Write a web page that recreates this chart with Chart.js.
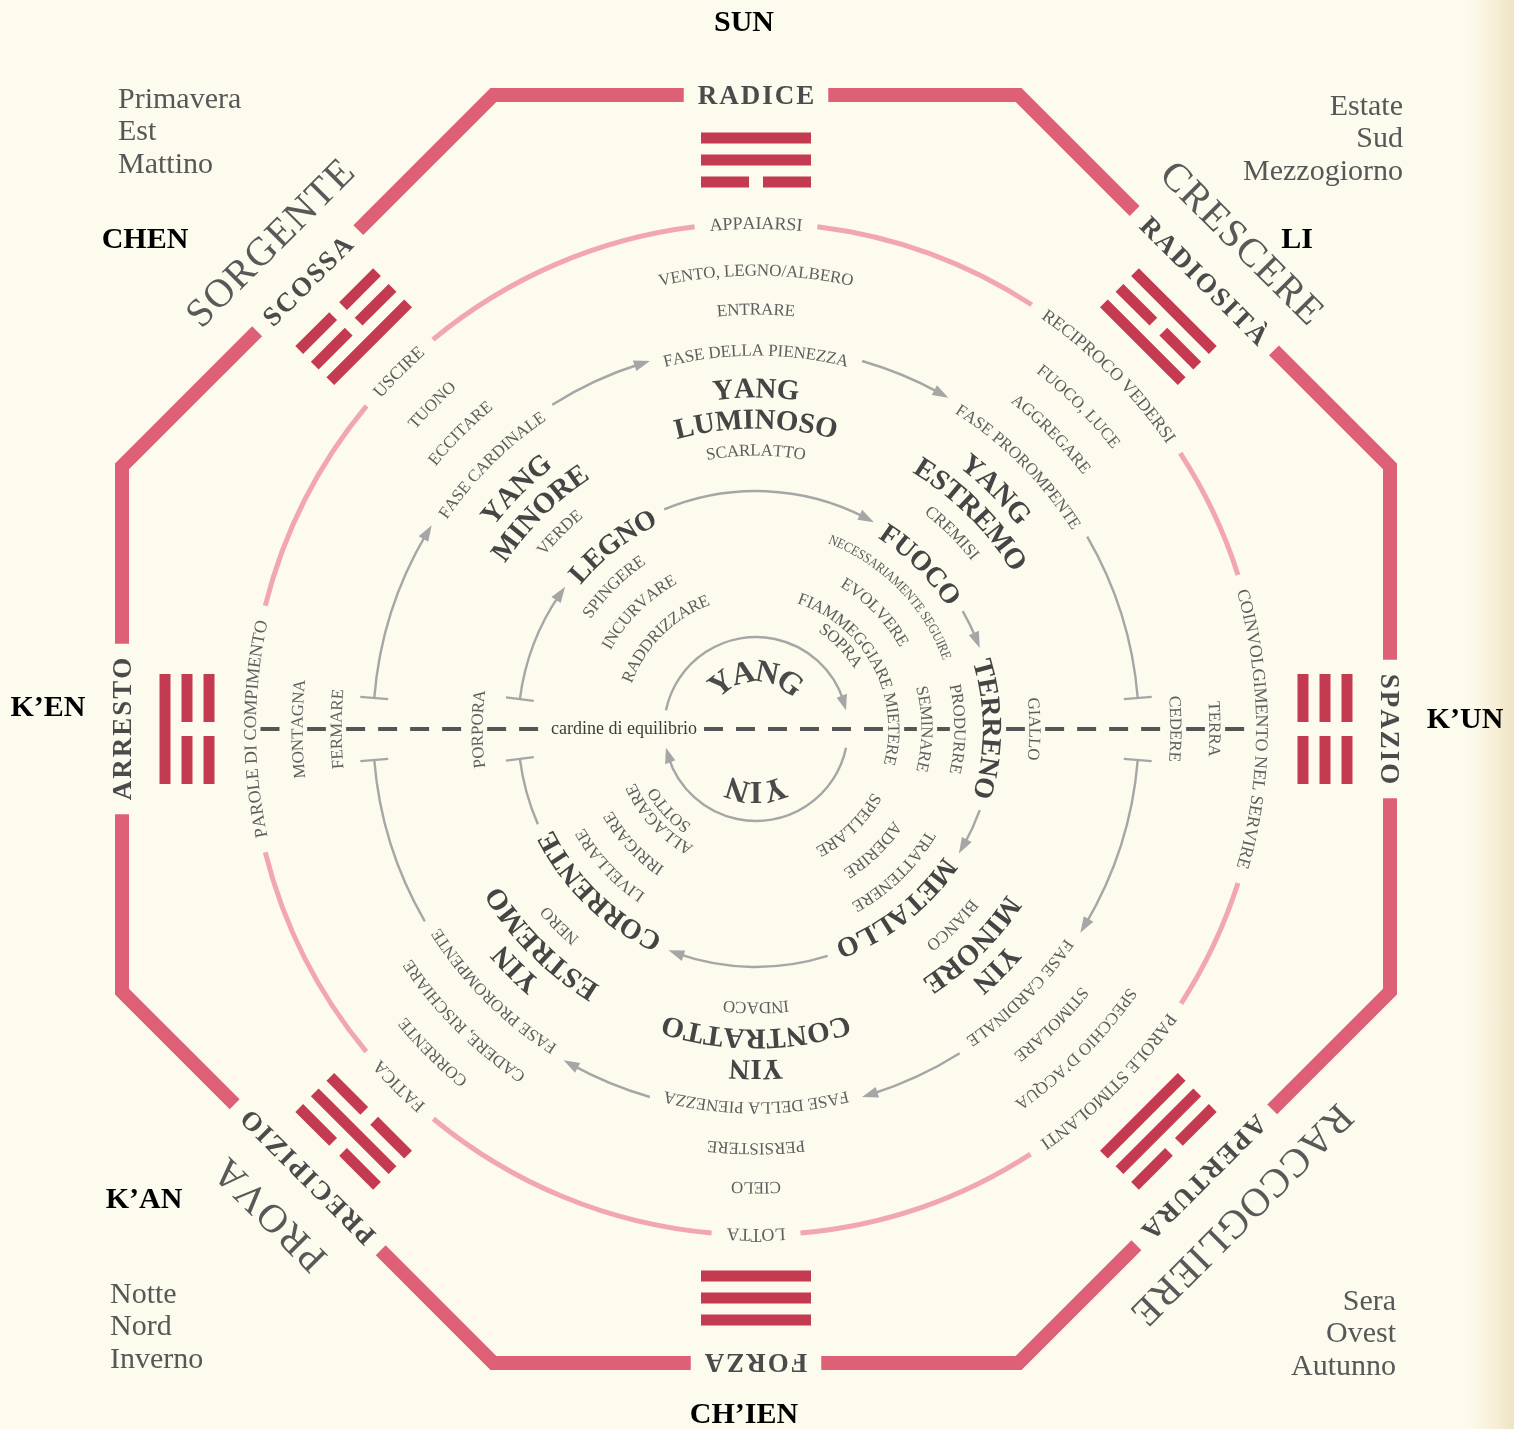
<!DOCTYPE html>
<html>
<head>
<meta charset="utf-8">
<script src="https://cdn.jsdelivr.net/npm/chart.js@4.4.1/dist/chart.umd.min.js"></script>
<style>
html,body{margin:0;padding:0;}
body{width:1514px;height:1429px;overflow:hidden;
 background:linear-gradient(to right,#fcfbee 0px,#fcfbee 1468px,#f7f0da 1492px,#efe3c4 1514px);}
#wrap{position:absolute;left:0;top:0;width:1514px;height:1429px;}
</style>
</head>
<body>
<div id="wrap"><canvas id="c" width="1514" height="1429"></canvas></div>
<script>
// ================= DATA =================
const directions = [0, 45, 90, 135, 180, 225, 270, 315];
const octagonLabels = ["RADICE", "RADIOSITÀ", "SPAZIO", "APERTURA", "FORZA", "PRECIPIZIO", "ARRESTO", "SCOSSA"];
// trigram lines listed inner -> outer (1 = yang solid, 0 = yin broken)
const trigramLines = [[0,1,1],[1,0,1],[0,0,0],[1,1,0],[1,1,1],[0,1,0],[0,0,1],[1,0,0]];
const seasonAngles = [45, 135, 225, 315];
const seasonNames = ["CRESCERE", "RACCOGLIERE", "PROVA", "SORGENTE"];
const pinkRingLabels = ["APPAIARSI", "RECIPROCO VEDERSI", "COINVOLGIMENTO NEL SERVIRE", "PAROLE STIMOLANTI", "LOTTA", "FATICA", "PAROLE DI COMPIMENTO", "USCIRE"];
const imageLabels = ["VENTO, LEGNO/ALBERO", "FUOCO, LUCE", "TERRA", "SPECCHIO D’ACQUA", "CIELO", "CORRENTE", "MONTAGNA", "TUONO"];
const actionLabels = ["ENTRARE", "AGGREGARE", "CEDERE", "STIMOLARE", "PERSISTERE", "CADERE, RISCHIARE", "FERMARE", "ECCITARE"];
const phaseLabels = ["FASE DELLA PIENEZZA", "FASE PROROMPENTE", null, "FASE CARDINALE", "FASE DELLA PIENEZZA", "FASE PROROMPENTE", null, "FASE CARDINALE"];
const yinYangFirst = ["YANG", "YANG", null, "YIN", "YIN", "YIN", null, "YANG"];
const yinYangSecond = ["LUMINOSO", "ESTREMO", null, "MINORE", "CONTRATTO", "ESTREMO", null, "MINORE"];
const colourLabels = ["SCARLATTO", "CREMISI", "GIALLO", "BIANCO", "INDACO", "NERO", "PORPORA", "VERDE"];
const elementNames = ["LEGNO", "FUOCO", "TERRENO", "METALLO", "CORRENTE"];
const elementAngles = [322, 45, 90, 142, 224];
const elementVerbAngles = [315, 45.5, 90, 136, 227];
const elementVerbsOuter = ["SPINGERE", "NECESSARIAMENTE SEGUIRE", "PRODURRE", "TRATTENERE", "LIVELLARE"];
const elementVerbsMiddle = ["INCURVARE", "EVOLVERE", "SEMINARE", "ADERIRE", "IRRIGARE"];
const elementVerbsInner = ["RADDRIZZARE", "FIAMMEGGIARE", "MIETERE", "SPELLARE", "ALLAGARE"];
const elementVerbsInnermost = [null, "SOPRA", null, null, "SOTTO"];
const centreWords = ["YANG", "YIN"];
const centreAngles = [0, 180];
const centreRadii = [58, 64];
const axisLabel = "cardine di equilibrio";
const axisLabelX = -132;
const trigramNames = ["SUN", "LI", "K’UN", "CH’IEN", "K’AN", "K’EN", "CHEN"];
const trigramNameX = [-12, 541, 709, -12, -612, -708, -611];
const trigramNameY = [-706, -489, -9, 686, 471, -21, -489];
const cornerTexts = [["Primavera", "Est", "Mattino"], ["Estate", "Sud", "Mezzogiorno"], ["Notte", "Nord", "Inverno"], ["Sera", "Ovest", "Autunno"]];
const cornerX = [-638, 647, -646, 640];
const cornerY = [-629, -622, 566, 573];
// radial values (diagram units) of each ring
const ringValues = { season: 688, octagon: 634, trigram: 569, pink: 506, image: 459, action: 420,
  phaseText: 379, phaseArc: 383, yy1: 341, yy2: 310, colour: 279, element: 236, elementArc: 238,
  verb1: 204, verb2: 171, verb3: 138, verb4: 121, centreArc: 92 };

// ================= STYLE =================
const FAMILY = '"Liberation Serif","Times New Roman",serif';
const STY = {
  octagon: {size: 27, weight: 'bold', color: '#4b4b4b', ls: 2, curved: false},
  season:  {size: 40, weight: 'normal', color: '#595959', ls: 1.5, curved: false},
  pink:    {size: 18, weight: 'normal', color: '#5e5e5e', ls: 0, curved: true},
  small:   {size: 17, weight: 'normal', color: '#5e5e5e', ls: 0, curved: true},
  yy:      {size: 29, weight: 'bold', color: '#454545', ls: 0.5, curved: true},
  element: {size: 28, weight: 'bold', color: '#444444', ls: 0.5, curved: true},
  centre:  {size: 32, weight: 'bold', color: '#4a4a4a', ls: 1.5, curved: true},
  axis:    {size: 18, weight: 'normal', color: '#3c3c3c'},
  name:    {size: 30, weight: 'bold', color: '#000000'},
  corner:  {size: 30, weight: 'normal', color: '#575757'}
};
const OVERRIDE = {"NECESSARIAMENTE SEGUIRE": {size: 14, sx: 0.88}};
const COL = {octagon: '#de6076', trigram: '#c43a50', pink: '#f2a6b2', gray: '#a6a6a6', dash: '#555555'};
const cornerAlign = ['left', 'right', 'left', 'right'];

const textLayers = [
  {labels: pinkRingLabels, angles: directions, r: ringValues.pink, st: 'pink'},
  {labels: imageLabels, angles: directions, r: ringValues.image, st: 'small'},
  {labels: actionLabels, angles: directions, r: ringValues.action, st: 'small'},
  {labels: phaseLabels, angles: directions, r: ringValues.phaseText, st: 'small'},
  {labels: yinYangFirst, angles: directions, r: ringValues.yy1, st: 'yy'},
  {labels: yinYangSecond, angles: directions, r: ringValues.yy2, st: 'yy'},
  {labels: colourLabels, angles: directions, r: ringValues.colour, st: 'small'},
  {labels: elementNames, angles: elementAngles, r: ringValues.element, st: 'element'},
  {labels: elementVerbsOuter, angles: elementVerbAngles, r: ringValues.verb1, st: 'small'},
  {labels: elementVerbsMiddle, angles: elementVerbAngles, r: ringValues.verb2, st: 'small'},
  {labels: elementVerbsInner, angles: elementVerbAngles, r: ringValues.verb3, st: 'small'},
  {labels: elementVerbsInnermost, angles: elementVerbAngles, r: ringValues.verb4, st: 'small'},
  {labels: centreWords, angles: centreAngles, r: centreRadii, st: 'centre'},
  {labels: octagonLabels, angles: directions, r: ringValues.octagon, st: 'octagon'},
  {labels: seasonNames, angles: seasonAngles, r: ringValues.season, st: 'season'}
];

// ================= HELPERS =================
const rad = d => d * Math.PI / 180, deg = r => r * 180 / Math.PI;
function fontOf(st) { return (st.weight || 'normal') + ' ' + st.size + 'px ' + FAMILY; }
function styleFor(name, text) { const o = OVERRIDE[text]; return o ? Object.assign({}, STY[name], o) : STY[name]; }
function textSpan(ctx, text, st) {
  ctx.font = fontOf(st);
  const sx = st.sx || 1, ls = st.ls || 0;
  const ws = [...text].map(ch => ctx.measureText(ch).width * sx);
  return {ws, total: ws.reduce((a, b) => a + b, 0) + ls * Math.max(0, ws.length - 1)};
}
const mctx = document.createElement('canvas').getContext('2d');

// octagon built from apothem, with gaps sized by its labels
const halfSide = ringValues.octagon * Math.tan(Math.PI / 8);
function octPoint(i, t) {
  const th = rad(directions[i]);
  return {x: ringValues.octagon * Math.sin(th) + t * Math.cos(th), y: -ringValues.octagon * Math.cos(th) + t * Math.sin(th)};
}
const octGapHalf = octagonLabels.map(l => textSpan(mctx, l, styleFor('octagon', l)).total / 2 + 14);
const octagonSets = directions.map((d, i) => {
  const j = (i + 1) % 8;
  return {data: [octPoint(i, octGapHalf[i]), octPoint(i, halfSide), octPoint(j, -octGapHalf[j])],
    showLine: true, borderColor: COL.octagon, borderWidth: 14, pointRadius: 0, pointHoverRadius: 0,
    borderJoinStyle: 'miter', borderCapStyle: 'butt', tension: 0, clip: false};
});
const nameSet = {data: trigramNameX.map((x, i) => ({x, y: trigramNameY[i]})), pointRadius: 0, showLine: false, clip: false};
const cornerSet = {data: cornerX.map((x, i) => ({x, y: cornerY[i]})), pointRadius: 0, showLine: false, clip: false};

// ================= PLUGIN =================
const diagram = {
  id: 'diagram',
  afterDatasetsDraw(chart) {
    const ctx = chart.ctx;
    const xs = chart.scales.x, ys = chart.scales.y;
    const K = Math.abs(xs.getPixelForValue(1) - xs.getPixelForValue(0));
    const cx = xs.getPixelForValue(0), cy = ys.getPixelForValue(0);
    const P = (th, r) => [xs.getPixelForValue(r * Math.sin(rad(th))), ys.getPixelForValue(-r * Math.cos(rad(th)))];

    function drawText(text, th, r, st) {
      const sp = textSpan(ctx, text, st);
      const chars = [...text], sx = st.sx || 1, ls = st.ls || 0;
      ctx.font = fontOf(st); ctx.fillStyle = st.color; ctx.textAlign = 'center'; ctx.textBaseline = 'alphabetic';
      const off = st.size * 0.33;
      if (st.curved) {
        const R = r * K;
        let a = th - deg(sp.total / 2 / R);
        chars.forEach((ch, i) => {
          const mid = a + deg(sp.ws[i] / 2 / R);
          const [x, y] = P(mid, r);
          ctx.save(); ctx.translate(x, y); ctx.rotate(rad(mid)); ctx.scale(sx, 1); ctx.fillText(ch, 0, off); ctx.restore();
          a += deg((sp.ws[i] + ls) / R);
        });
      } else {
        const [x0, y0] = P(th, r);
        ctx.save(); ctx.translate(x0, y0); ctx.rotate(rad(th));
        let x = -sp.total / 2;
        chars.forEach((ch, i) => {
          ctx.save(); ctx.translate(x + sp.ws[i] / 2, 0); ctx.scale(sx, 1); ctx.fillText(ch, 0, off); ctx.restore();
          x += sp.ws[i] + ls;
        });
        ctx.restore();
      }
    }
    function arcSeg(r, a1, a2) {
      ctx.beginPath(); ctx.arc(cx, cy, r * K, rad(a1 - 90), rad(a2 - 90), false); ctx.stroke();
    }
    function arrow(r, a, len, hw) {
      const R = r * K, ab = a - deg(len / R);
      const [tx, ty] = P(a, r), [bx, by] = P(ab, r);
      const nx = Math.sin(rad(ab)), ny = -Math.cos(rad(ab));
      ctx.beginPath(); ctx.moveTo(tx, ty); ctx.lineTo(bx + nx * hw, by + ny * hw); ctx.lineTo(bx - nx * hw, by - ny * hw); ctx.closePath(); ctx.fill();
    }
    function tick(r, a, len) {
      const [x1, y1] = P(a, r - len / 2), [x2, y2] = P(a, r + len / 2);
      ctx.beginPath(); ctx.moveTo(x1, y1); ctx.lineTo(x2, y2); ctx.stroke();
    }
    function ring(r, stops, opt) {
      stops = stops.slice().sort((a, b) => a.angle - b.angle);
      const R = r * K;
      ctx.strokeStyle = opt.color; ctx.fillStyle = opt.color; ctx.lineWidth = opt.width; ctx.lineCap = 'butt';
      stops.forEach((s, i) => {
        const n = stops[(i + 1) % stops.length];
        let a1 = s.angle + deg(s.half / R), a2 = n.angle - deg(n.half / R);
        while (a2 <= a1) a2 += 360;
        const endDeco = n.axis ? opt.axisEnd : opt.labelEnd;
        const a2l = endDeco === 'arrow' ? a2 - deg(opt.arrowLen * 0.6 / R) : a2;
        arcSeg(r, a1, a2l);
        if (endDeco === 'arrow') arrow(r, a2, opt.arrowLen, opt.arrowHW);
        if (endDeco === 'tick') tick(r, a2, opt.tickLen);
        if (s.axis && opt.axisStart === 'tick') tick(r, a1, opt.tickLen);
      });
    }
    const labelStops = (labels, angles, stName, pad) => labels.map((l, i) => l ? {angle: angles[i], half: textSpan(ctx, l, styleFor(stName, l)).total / 2 + pad} : null).filter(Boolean);

    // ---- pink ring ----
    ring(ringValues.pink, labelStops(pinkRingLabels, directions, 'pink', 15), {color: COL.pink, width: 5, labelEnd: null});
    // ---- outer grey ring (phases) ----
    ring(ringValues.phaseArc, labelStops(phaseLabels, directions, 'small', 14).concat([{angle: 90, half: 31, axis: true}, {angle: 270, half: 31, axis: true}]),
      {color: COL.gray, width: 2.4, labelEnd: 'arrow', axisEnd: 'tick', axisStart: 'tick', arrowLen: 16, arrowHW: 5.5, tickLen: 28});
    // ---- inner grey ring (elements) ----
    ring(ringValues.elementArc, labelStops(elementNames, elementAngles, 'element', 12).concat([{angle: 270, half: 30, axis: true}]),
      {color: COL.gray, width: 2.4, labelEnd: 'arrow', axisEnd: 'tick', axisStart: 'tick', arrowLen: 16, arrowHW: 5.5, tickLen: 28});
    // ---- centre ring ----
    ring(ringValues.centreArc, [{angle: 90, half: 19, axis: true}, {angle: 270, half: 19, axis: true}],
      {color: COL.gray, width: 2.4, labelEnd: 'arrow', axisEnd: 'arrow', axisStart: null, arrowLen: 15, arrowHW: 5.5});

    // ---- dashed axis (cardine di equilibrio) with knock-outs ----
    const knock = [];
    textLayers.forEach(L => L.labels.forEach((l, i) => {
      if (!l) return;
      const a = L.angles[i], r = Array.isArray(L.r) ? L.r[i] : L.r;
      if (a === 90 || a === 270) {
        if (r > ringValues.pink + 1) return;
        const st = styleFor(L.st, l), xv = a === 90 ? r : -r, h = st.size * 0.36 + 4;
        knock.push([xv - h, xv + h]);
      }
    }));
    const axSt = STY.axis;
    ctx.font = fontOf(axSt);
    const axW = ctx.measureText(axisLabel).width;
    knock.push([axisLabelX - axW / 2 - 7, axisLabelX + axW / 2 + 7]);
    knock.sort((a, b) => a[0] - b[0]);
    ctx.save();
    ctx.strokeStyle = COL.dash; ctx.lineWidth = 4; ctx.setLineDash([19, 13]); ctx.lineCap = 'butt';
    let cur = -ringValues.pink;
    const segs = [];
    knock.forEach(([a, b]) => { if (a > cur) segs.push([cur, a]); cur = Math.max(cur, b); });
    if (cur < ringValues.pink) segs.push([cur, ringValues.pink]);
    segs.forEach(([a, b]) => {
      if (b - a < 8) return;
      ctx.beginPath(); ctx.lineDashOffset = 0;
      ctx.moveTo(xs.getPixelForValue(a), cy); ctx.lineTo(xs.getPixelForValue(b), cy); ctx.stroke();
    });
    ctx.restore();
    ctx.font = fontOf(axSt); ctx.fillStyle = axSt.color; ctx.textAlign = 'center'; ctx.textBaseline = 'middle';
    ctx.fillText(axisLabel, xs.getPixelForValue(axisLabelX), cy);

    // ---- trigrams ----
    ctx.fillStyle = COL.trigram;
    trigramLines.forEach((lines, i) => {
      const th = directions[i];
      lines.forEach((yang, k) => {
        const [x, y] = P(th, ringValues.trigram + (k - 1) * 22);
        ctx.save(); ctx.translate(x, y); ctx.rotate(rad(th));
        if (yang) ctx.fillRect(-55 * K, -5.5 * K, 110 * K, 11 * K);
        else { ctx.fillRect(-55 * K, -5.5 * K, 48 * K, 11 * K); ctx.fillRect(7 * K, -5.5 * K, 48 * K, 11 * K); }
        ctx.restore();
      });
    });

    // ---- all ring texts ----
    textLayers.forEach(L => L.labels.forEach((l, i) => {
      if (!l) return;
      const r = Array.isArray(L.r) ? L.r[i] : L.r;
      drawText(l, L.angles[i], r, styleFor(L.st, l));
    }));

    // ---- trigram names ----
    const nm = chart.getDatasetMeta(8).data;
    ctx.font = fontOf(STY.name); ctx.fillStyle = STY.name.color; ctx.textAlign = 'center'; ctx.textBaseline = 'middle';
    nm.forEach((pt, i) => ctx.fillText(trigramNames[i], pt.x, pt.y));
    // ---- corner texts ----
    const cm = chart.getDatasetMeta(9).data;
    ctx.font = fontOf(STY.corner); ctx.fillStyle = STY.corner.color; ctx.textBaseline = 'middle';
    cm.forEach((pt, i) => {
      ctx.textAlign = cornerAlign[i];
      cornerTexts[i].forEach((t, j) => ctx.fillText(t, pt.x, pt.y + j * 32.5 * K));
    });
  }
};

new Chart(document.getElementById('c'), {
  type: 'scatter',
  data: {datasets: octagonSets.concat([nameSet, cornerSet])},
  options: {
    responsive: false, animation: false, events: [],
    layout: {padding: 0, autoPadding: false},
    plugins: {legend: {display: false}, tooltip: {enabled: false}},
    scales: {
      x: {type: 'linear', min: -756, max: 758, display: false},
      y: {type: 'linear', min: -729, max: 700, reverse: true, display: false}
    }
  },
  plugins: [diagram]
});
</script>
</body>
</html>
